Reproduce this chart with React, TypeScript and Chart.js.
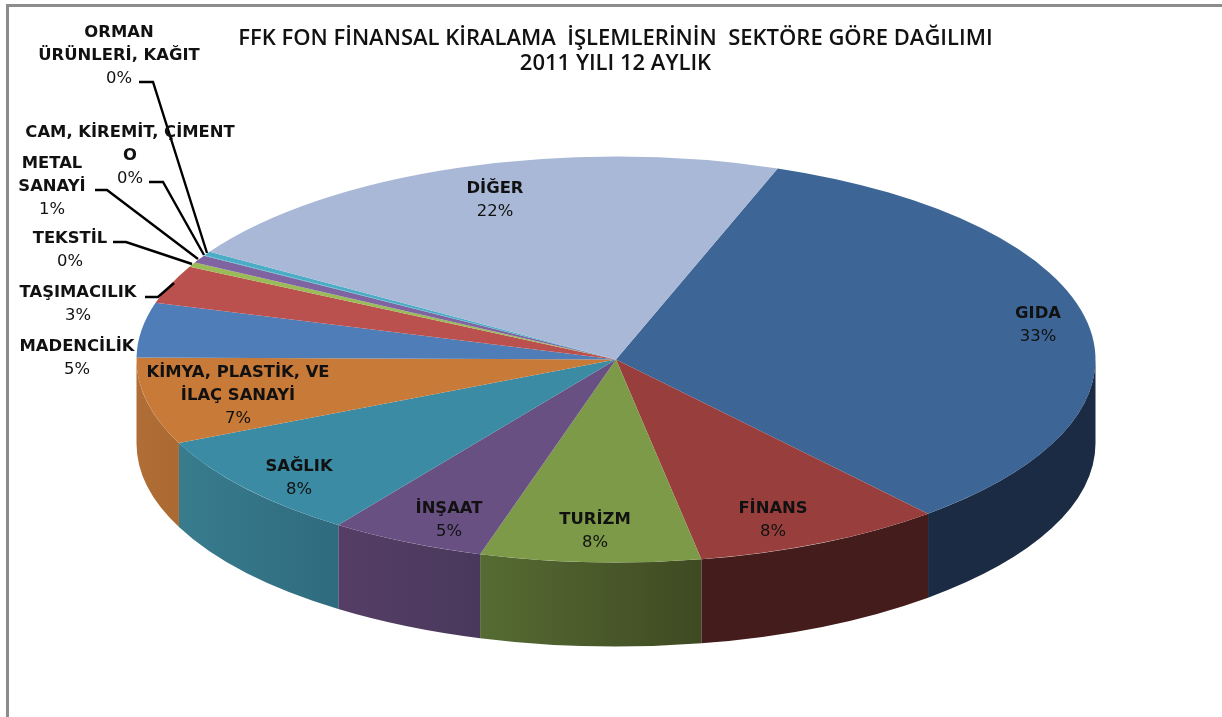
import React, { useEffect, useRef } from "react";
import { Chart, registerables } from "chart.js";

Chart.register(...registerables);

const categories = ["GIDA", "FİNANS", "TURİZM", "İNŞAAT", "SAĞLIK", "KİMYA, PLASTİK, VE İLAÇ SANAYİ", "MADENCİLİK", "TAŞIMACILIK", "TEKSTİL", "METAL SANAYİ", "CAM, KİREMİT, ÇİMENTO", "ORMAN ÜRÜNLERİ, KAĞIT", "DİĞER"];
const values = [33.25, 8.43, 7.42, 5.26, 8.42, 6.91, 4.34, 3.06, 0.36, 0.62, 0.05, 0.31, 21.57];
const percentLabels = ["33%", "8%", "8%", "5%", "8%", "7%", "5%", "3%", "0%", "1%", "0%", "0%", "22%"];
const topColors = ["#3d6696", "#983f3d", "#7d9a48", "#695083", "#3a8ba3", "#c87a38", "#4f7db8", "#bb514e", "#9bbb59", "#8064a2", "#4bacc6", "#4bacc6", "#a9b8d6"];
const wallLeft = ["#1a2b43", "#431c1b", "#566b33", "#553e66", "#387c8e", "#b06e36", "#3f6391", "#8f3f3c", "#7a9446", "#654f80", "#3b8799", "#3b8799", "#8591a8"];
const wallRight = ["#1a2b43", "#431c1b", "#3f4a22", "#4a385c", "#2f6b7e", "#ac6a33", "#3f6391", "#8f3f3c", "#7a9446", "#654f80", "#3b8799", "#3b8799", "#8591a8"];
const titleLines = ["FFK FON FİNANSAL KİRALAMA  İŞLEMLERİNİN  SEKTÖRE GÖRE DAĞILIMI", "2011 YILI 12 AYLIK"];

const labelLines: string[][] = [["GIDA"], ["FİNANS"], ["TURİZM"], ["İNŞAAT"], ["SAĞLIK"], ["KİMYA, PLASTİK, VE", "İLAÇ SANAYİ"], ["MADENCİLİK"], ["TAŞIMACILIK"], ["TEKSTİL"], ["METAL", "SANAYİ"], ["CAM, KİREMİT, ÇİMENT", "O"], ["ORMAN", "ÜRÜNLERİ, KAĞIT"], ["DİĞER"]];
const labelX = [1038, 773, 595, 449, 299, 238, 77, 78, 70, 52, 130, 119, 495];
const labelY = [314, 509, 520, 509, 467, 373, 347, 293, 239, 164, 133, 33, 189];
const leaders: (number[][] | null)[] = [null, null, null, null, null, null, null,
  [[145, 297], [158, 297], [174, 283]],
  [[113, 242], [126, 242], [192, 264]],
  [[95, 190], [107, 190], [198, 259]],
  [[149, 182], [163, 182], [204, 255]],
  [[139, 82], [153, 82], [207, 253]],
  null];

const CX = 616, CY = 359.5, RX = 479.5, RY = 203, DEPTH = 84;
const LABEL_FONT = "bold 16.4px 'DejaVu Sans'";
const PCT_FONT = "16.4px 'DejaVu Sans'";
const LINE = 23;

const pie3d = {
  id: "pie3d",
  beforeDraw(chart: any) {
    const { ctx, width, height } = chart;
    ctx.save();
    ctx.fillStyle = "#ffffff";
    ctx.fillRect(0, 0, width, height);
    ctx.fillStyle = "#8c8c8c";
    ctx.fillRect(6, 4, width - 6, 3);
    ctx.fillRect(6, 4, 3, height - 4);
    ctx.restore();
  },
  beforeDatasetsDraw(chart: any) {
    const { ctx } = chart;
    const arcs = chart.getDatasetMeta(0).data;
    arcs.forEach((arc: any, i: number) => {
      const two = Math.PI * 2;
      // visible wall: the front half of the ellipse only
      const a0 = arc.startAngle, a1 = arc.endAngle;
      for (const shift of [0, two, -two]) {
        const s = Math.max(a0 + shift, 0), e = Math.min(a1 + shift, Math.PI);
        if (e <= s) continue;
        const x0 = CX + RX * Math.cos(e), x1 = CX + RX * Math.cos(s);
        const g = ctx.createLinearGradient(x0, 0, x1, 0);
        g.addColorStop(0, wallLeft[i]);
        g.addColorStop(1, wallRight[i]);
        ctx.beginPath();
        ctx.ellipse(CX, CY, RX, RY, 0, s, e);
        ctx.ellipse(CX, CY + DEPTH, RX, RY, 0, e, s, true);
        ctx.closePath();
        ctx.fillStyle = g;
        ctx.fill();
      }
    });
  },
  beforeDatasetDraw(chart: any, args: any) {
    const { ctx } = chart;
    const arc = args.meta.data[0];
    const r = arc.outerRadius;
    ctx.save();
    ctx.translate(CX, CY);
    ctx.scale(RX / r, RY / r);
    ctx.translate(-arc.x, -arc.y);
  },
  afterDatasetDraw(chart: any) {
    chart.ctx.restore();
  },
  afterDatasetsDraw(chart: any) {
    const { ctx } = chart;
    ctx.save();
    ctx.strokeStyle = "#000000";
    ctx.lineWidth = 2.4;
    ctx.lineJoin = "miter";
    leaders.forEach((pts) => {
      if (!pts) return;
      ctx.beginPath();
      pts.forEach((p, k) => (k ? ctx.lineTo(p[0], p[1]) : ctx.moveTo(p[0], p[1])));
      ctx.stroke();
    });
    ctx.fillStyle = "#111111";
    ctx.textAlign = "center";
    ctx.textBaseline = "middle";
    categories.forEach((_, i) => {
      const lines = labelLines[i];
      ctx.font = LABEL_FONT;
      lines.forEach((t, k) => ctx.fillText(t, labelX[i], labelY[i] + k * LINE));
      ctx.font = PCT_FONT;
      ctx.fillText(percentLabels[i], labelX[i], labelY[i] + lines.length * LINE);
    });
    ctx.restore();
  },
};

export default function App() {
  const ref = useRef<HTMLCanvasElement>(null);
  useEffect(() => {
    const chart = new Chart(ref.current as HTMLCanvasElement, {
      type: "pie",
      data: {
        labels: categories,
        datasets: [{ data: values, backgroundColor: topColors, borderWidth: 0, clip: false as any }],
      },
      options: {
        animation: false,
        responsive: false,
        rotation: 19.7,
        layout: { padding: { left: 9, bottom: 60 } },
        plugins: {
          legend: { display: false },
          tooltip: { enabled: false },
          title: {
            display: true,
            text: titleLines,
            color: "#111111",
            font: { family: "'Open Sans'", size: 22, weight: "600", lineHeight: 1.14 },
            padding: { top: 26, bottom: 10 },
          },
        },
      },
      plugins: [pie3d],
    });
    return () => chart.destroy();
  }, []);
  return <canvas ref={ref} width={1222} height={717} style={{ position: "fixed", left: 0, top: 0, display: "block" }} />;
}
